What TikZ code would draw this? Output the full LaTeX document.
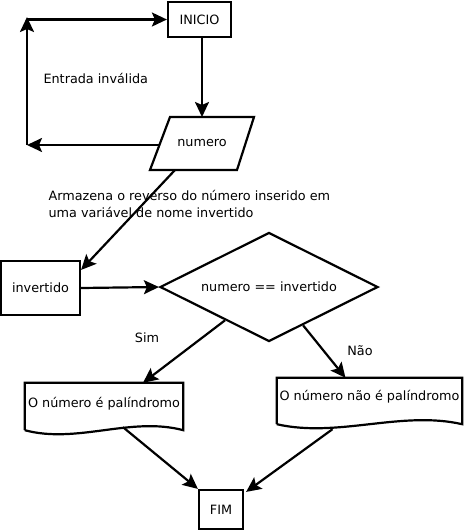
\documentclass[tikz,border=0pt]{standalone}
\usepackage{fontspec}
\setmainfont{DejaVu Sans}
\usetikzlibrary{arrows.meta,shapes.geometric,calc}

% bottom of a document symbol, drawn round a named node
\newcommand{\docbox}[1]{%
  \draw[thick line] (#1.south west) -- (#1.north west) -- (#1.north east) -- (#1.south east)
    .. controls ($(#1.south east)!.33!(#1.south west)+(0,-14)$)
    and ($(#1.south east)!.67!(#1.south west)+(0,14)$) .. (#1.south west);}

\begin{document}
\begin{tikzpicture}[x=1pt, y=-1pt, font=\fontsize{12.8}{17}\selectfont]
    \tikzstyle{thick line}=[line width=2.2pt, line join=miter]
    \tikzstyle{flow}=[thick line, -{Stealth[length=15pt, width=14pt, inset=3pt]}]
    \tikzstyle{box}=[draw, thick line, inner sep=0pt]
    \tikzstyle{doc}=[inner sep=0pt]
    \useasboundingbox (0,0) rectangle (465,531);

    \node[box, minimum width=63pt, minimum height=35pt] (inicio) at (199.5,19.5) {INICIO};
    \node (numero) at (202,143) {numero};
    \draw[thick line] (170,117) coordinate (numtop) -- (254,117) -- (237,170)
      -- (150,170) coordinate (numbot) -- cycle;
    \coordinate (numleft) at (160,145);
    \coordinate (numout) at (175,170);
    \coordinate (loopa) at (27,145);
    \coordinate (loopb) at (27,17);
    \node[anchor=west] (invalida) at (40,78) {Entrada inválida};

    \node[box, minimum width=79pt, minimum height=54pt] (invertido) at (40.5,288) {invertido};
    \node[anchor=north west, align=left] (nota) at (45,187)
      {Armazena o reverso do número inserido em\\uma variável de nome invertido};
    \node[draw, thick line, diamond, aspect=2, inner sep=0pt,
      minimum width=218pt, minimum height=109pt] (teste) at (269,287) {numero == invertido};

    \node[doc, minimum width=158pt, minimum height=47pt] (palin) at (104,406.5) {};
    \node (palintxt) at (104,404) {O número é palíndromo};
    \node[doc, minimum width=185pt, minimum height=46pt] (naopalin) at (369.5,401) {};
    \node (naopalintxt) at (369.5,397) {O número não é palíndromo};
    \docbox{palin}
    \docbox{naopalin}
    \node (sim) at (147,338) {Sim};
    \node (nao) at (360,351) {Não};

    \node[box, minimum width=44pt, minimum height=39pt] (fim) at (221,509.5) {FIM};

    % ligacoes
    \draw[flow] (inicio.south -| numero) -- (numero |- numtop);
    \draw[flow] (numleft) -- (loopa);
    \draw[flow] (loopa) -- (loopb);
    \draw[flow] (loopb |- inicio.west) -- (inicio.west);
    \draw[flow] (numout) -- ($(invertido.north east)+(0,10)$);
    \draw[flow] (invertido.east) -- (teste.west);
    \draw[flow] ($(teste.west)!.6!(teste.south)$) -- ($(palin.north)+(39,0)$);
    \draw[flow] ($(teste.south)!.31!(teste.east)$) -- ($(naopalin.north)+(-24,0)$);
    \draw[flow] ($(palin.south)+(19,-3)$) -- (fim.north west);
    \draw[flow] ($(naopalin.south)+(-37,5)$) -- ($(fim.north east)+(2,3)$);
\end{tikzpicture}
\end{document}
